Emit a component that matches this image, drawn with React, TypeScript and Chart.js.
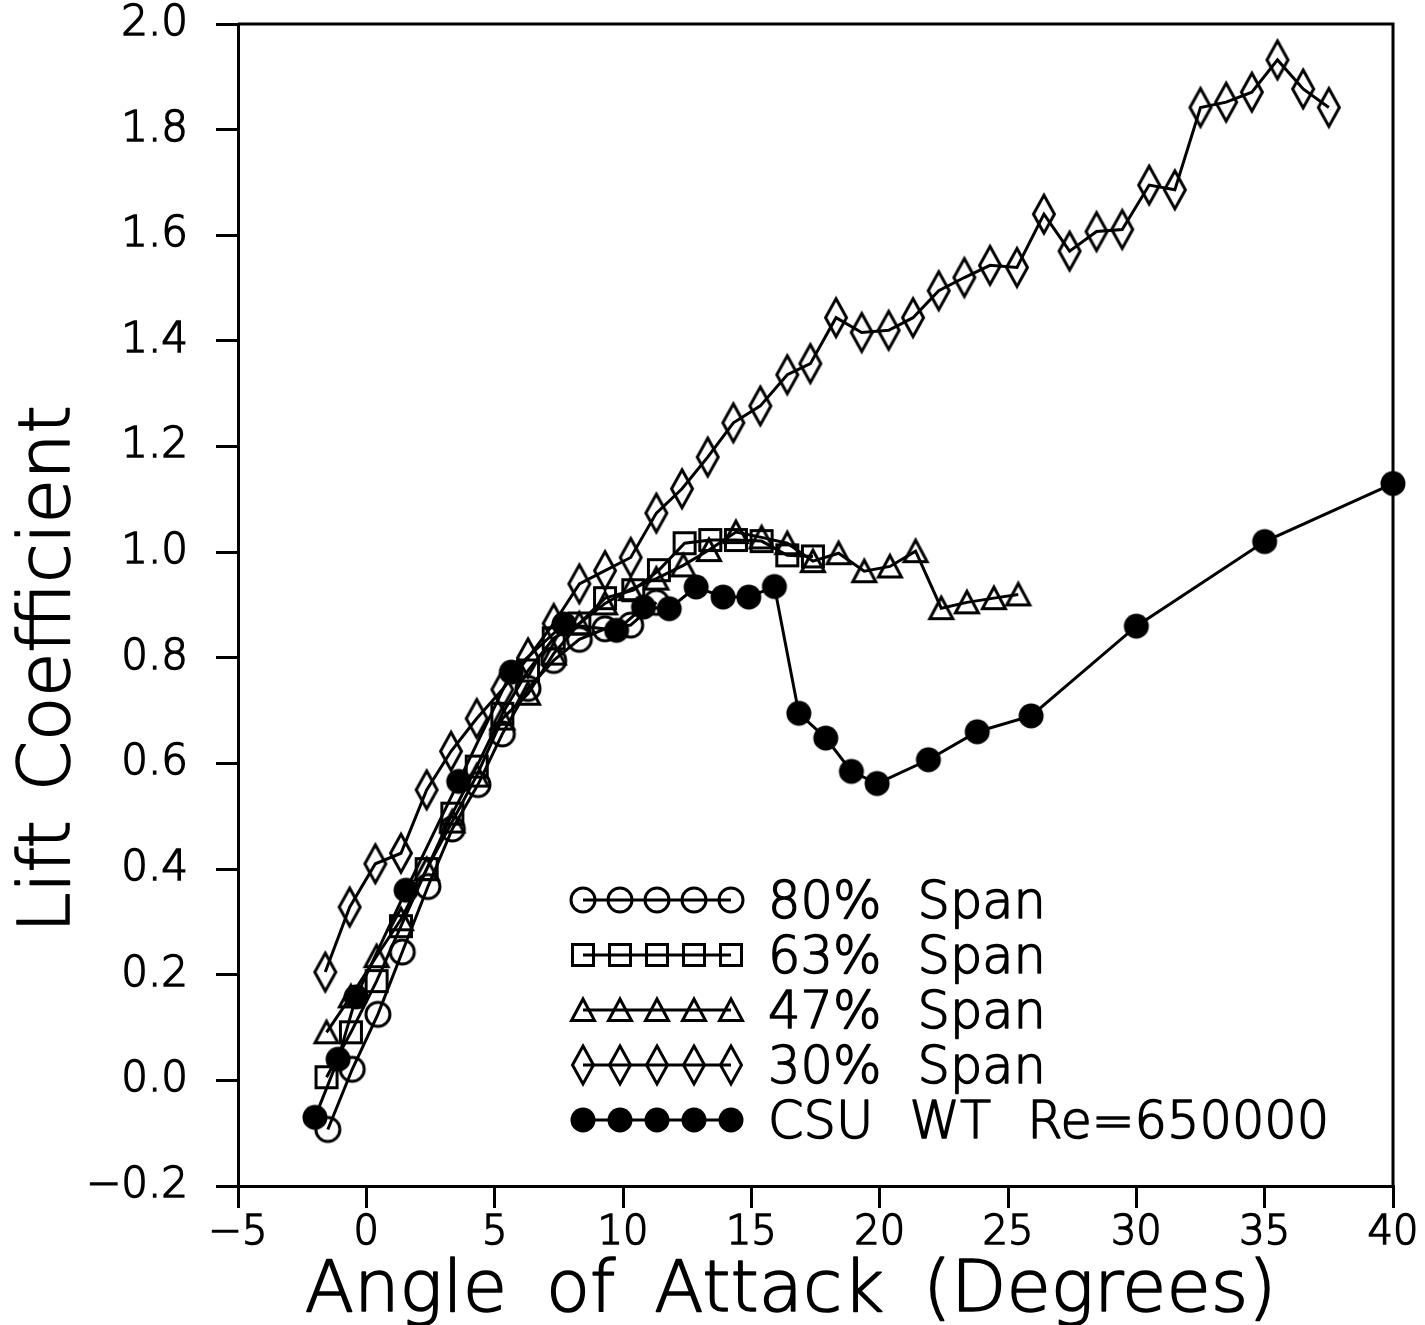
import React, { useEffect, useRef } from 'react';
import { Chart, registerables } from 'chart.js';

Chart.register(...registerables);

const FONT = '"DejaVu Sans", "Liberation Sans", sans-serif';

// ---- data (angle of attack in degrees, lift coefficient) ----
const span80Alpha = [-1.5, -0.55, 0.45, 1.4, 2.4, 3.35, 4.35, 5.3, 6.3, 7.3, 8.3, 9.3, 10.3, 11.3];
const span80Cl = [-0.093, 0.021, 0.125, 0.243, 0.367, 0.476, 0.56, 0.656, 0.742, 0.795, 0.835, 0.855, 0.862, 0.905];

const span63Alpha = [-1.55, -0.6, 0.4, 1.35, 2.35, 3.35, 4.3, 5.3, 6.3, 7.3, 8.3, 9.3, 10.4, 11.4, 12.4, 13.4, 14.4, 15.4, 16.4, 17.4];
const span63Cl = [0.006, 0.091, 0.188, 0.292, 0.4, 0.505, 0.594, 0.694, 0.776, 0.837, 0.865, 0.913, 0.928, 0.966, 1.017, 1.023, 1.023, 1.021, 0.994, 0.992];

const span47Alpha = [-1.55, -0.6, 0.4, 1.35, 2.35, 3.35, 4.3, 5.3, 6.3, 7.3, 8.3, 9.3, 10.3, 11.3, 12.35, 13.35, 14.4, 15.4, 16.4, 17.4, 18.4, 19.4, 20.4, 21.4, 22.4, 23.4, 24.45, 25.4];
const span47Cl = [0.091, 0.159, 0.235, 0.305, 0.4, 0.49, 0.577, 0.685, 0.732, 0.808, 0.865, 0.903, 0.93, 0.95, 0.975, 1.004, 1.038, 1.028, 1.017, 0.983, 0.998, 0.964, 0.973, 1.002, 0.894, 0.905, 0.913, 0.92];

const span30Alpha = [-1.6, -0.65, 0.35, 1.35, 2.35, 3.3, 4.3, 5.3, 6.3, 7.3, 8.3, 9.3, 10.3, 11.3, 12.3, 13.3, 14.3, 15.35, 16.4, 17.3, 18.3, 19.3, 20.35, 21.3, 22.3, 23.3, 24.3, 25.35, 26.4, 27.4, 28.45, 29.45, 30.5, 31.5, 32.5, 33.5, 34.5, 35.5, 36.5, 37.5];
const span30Cl = [0.205, 0.328, 0.41, 0.43, 0.55, 0.623, 0.685, 0.74, 0.8, 0.865, 0.94, 0.965, 0.99, 1.074, 1.12, 1.18, 1.245, 1.277, 1.336, 1.357, 1.444, 1.416, 1.42, 1.444, 1.495, 1.52, 1.543, 1.539, 1.64, 1.57, 1.607, 1.611, 1.695, 1.686, 1.842, 1.852, 1.871, 1.932, 1.877, 1.842];

const csuAlpha = [-2.0, -1.1, -0.4, 1.55, 3.6, 5.65, 7.7, 9.75, 10.8, 11.8, 12.85, 13.9, 14.9, 15.9, 16.85, 17.9, 18.9, 19.9, 21.9, 23.8, 25.9, 30.0, 35.0, 40.0];
const csuCl = [-0.07, 0.04, 0.158, 0.36, 0.566, 0.773, 0.864, 0.852, 0.896, 0.893, 0.934, 0.915, 0.915, 0.935, 0.695, 0.648, 0.585, 0.562, 0.607, 0.66, 0.69, 0.86, 1.02, 1.13];

const seriesLabels = ['80% Span', '63% Span', '47% Span', '30% Span', 'CSU WT Re=650000'];
const seriesMarkers = ['circle', 'square', 'triangle', 'diamond', 'filled'];

const xTickValues = [-5, 0, 5, 10, 15, 20, 25, 30, 35, 40];
const yTickValues = [-0.2, 0.0, 0.2, 0.4, 0.6, 0.8, 1.0, 1.2, 1.4, 1.6, 1.8, 2.0];

const xTitle = 'Angle of Attack (Degrees)';
const yTitle = 'Lift Coefficient';

function fmt(v: number, digits: number): string {
  const s = Math.abs(v) < 1e-9 ? (0).toFixed(digits) : v.toFixed(digits);
  return s.replace('-', '\u2212');
}

function makeMarker(kind: string): HTMLCanvasElement {
  const c = document.createElement('canvas');
  const W = 30;
  const H = kind === 'diamond' ? 46 : 30;
  c.width = W;
  c.height = H;
  const g = c.getContext('2d') as CanvasRenderingContext2D;
  g.lineWidth = 3;
  g.strokeStyle = '#000';
  g.fillStyle = '#000';
  g.lineJoin = 'miter';
  const cx = W / 2;
  const cy = H / 2;
  g.beginPath();
  if (kind === 'circle') {
    g.arc(cx, cy, 12, 0, Math.PI * 2);
    g.stroke();
  } else if (kind === 'filled') {
    g.arc(cx, cy, 12.5, 0, Math.PI * 2);
    g.fill();
  } else if (kind === 'square') {
    g.rect(cx - 10.5, cy - 10.5, 21, 21);
    g.stroke();
  } else if (kind === 'triangle') {
    g.moveTo(cx, cy - 11);
    g.lineTo(cx + 11.5, cy + 10.5);
    g.lineTo(cx - 11.5, cy + 10.5);
    g.closePath();
    g.stroke();
  } else if (kind === 'diamond') {
    g.moveTo(cx, cy - 19);
    g.lineTo(cx + 10.5, cy);
    g.lineTo(cx, cy + 19);
    g.lineTo(cx - 10.5, cy);
    g.closePath();
    g.stroke();
  }
  return c;
}

export default function App() {
  const ref = useRef<HTMLCanvasElement>(null);

  useEffect(() => {
    const canvas = ref.current;
    if (!canvas) return;

    const markers: Record<string, HTMLCanvasElement> = {};
    seriesMarkers.forEach((k) => {
      markers[k] = makeMarker(k);
    });

    const xs = [span80Alpha, span63Alpha, span47Alpha, span30Alpha, csuAlpha];
    const ys = [span80Cl, span63Cl, span47Cl, span30Cl, csuCl];

    const datasets = xs.map((xa, i) => ({
      label: seriesLabels[i],
      data: xa.map((x, j) => ({ x, y: ys[i][j] })),
      showLine: true,
      borderColor: '#000',
      backgroundColor: '#000',
      borderWidth: 3,
      pointStyle: markers[seriesMarkers[i]],
      pointRadius: 13,
      pointHoverRadius: 13,
      tension: 0,
      clip: false as const,
    }));

    const frameAndTitles = {
      id: 'frameAndTitles',
      afterLayout(chart: any) {
        const shift = (scale: any, dx: number, dy: number, ws: string) => {
          if (!scale || scale.__shifted) return;
          const proto = Object.getPrototypeOf(scale);
          scale.drawTitle = function () {
            const ctx = this.ctx;
            ctx.save();
            ctx.translate(dx, dy);
            (ctx as any).wordSpacing = ws;
            const origFill = ctx.fillText;
            (ctx as any).fillText = function (t: string, x: number, y: number, mw?: number) {
              this.lineWidth = 1.6;
              this.strokeStyle = '#000';
              this.lineJoin = 'round';
              this.strokeText(t, x, y, mw);
              origFill.call(this, t, x, y, mw);
            };
            proto.drawTitle.call(this);
            delete (ctx as any).fillText;
            ctx.restore();
          };
          scale.__shifted = true;
        };
        shift(chart.scales.x, -25, 0, '16px');
        shift(chart.scales.y, 0, 64, '6px');
      },
      beforeDatasetsDraw(chart: any) {
        const { ctx, chartArea } = chart;
        ctx.save();
        ctx.strokeStyle = '#000';
        ctx.lineWidth = 3;
        ctx.beginPath();
        ctx.moveTo(chartArea.left, chartArea.top);
        ctx.lineTo(chartArea.right, chartArea.top);
        ctx.lineTo(chartArea.right, chartArea.bottom);
        ctx.stroke();
        ctx.restore();
      },
      afterDatasetsDraw(chart: any) {
        const { ctx } = chart;
        ctx.save();
        const startX = 583;
        const step = 37;
        const textX = 768;
        const rowY0 = 900;
        const rowStep = 55;
        seriesLabels.forEach((label, i) => {
          const y = rowY0 + rowStep * i;
          ctx.strokeStyle = '#000';
          ctx.lineWidth = 3;
          ctx.beginPath();
          ctx.moveTo(startX, y);
          ctx.lineTo(startX + step * 4, y);
          ctx.stroke();
          const m = markers[seriesMarkers[i]];
          for (let k = 0; k < 5; k++) {
            const cx = startX + step * k;
            ctx.drawImage(m, cx - m.width / 2, y - m.height / 2);
          }
          ctx.fillStyle = '#000';
          ctx.strokeStyle = '#000';
          ctx.lineWidth = 1.5;
          ctx.lineJoin = 'round';
          ctx.font = `200 51px ${FONT}`;
          ctx.textBaseline = 'alphabetic';
          ctx.textAlign = 'left';
          (ctx as any).wordSpacing = '20px';
          ctx.strokeText(label, textX, y + 18);
          ctx.fillText(label, textX, y + 18);
          (ctx as any).wordSpacing = '0px';
        });
        ctx.restore();
      },
    };

    const xTickFont = { family: FONT, size: 40, weight: 200 as any };
    const yTickFont = { family: FONT, size: 42, weight: 200 as any };

    const chart = new Chart(canvas, {
      type: 'scatter',
      data: { datasets },
      options: {
        responsive: false,
        animation: false,
        events: [],
        layout: { padding: { left: 0, top: 24, right: 32, bottom: 0 } },
        plugins: {
          legend: { display: false },
          tooltip: { enabled: false },
          title: { display: false },
        },
        scales: {
          x: {
            type: 'linear',
            min: -5,
            max: 40,
            afterBuildTicks: (s: any) => {
              s.ticks = xTickValues.map((v) => ({ value: v }));
            },
            afterFit: (s: any) => {
              s.height = 139;
              s.paddingLeft = 0;
              s.paddingRight = 0;
            },
            grid: {
              display: true,
              drawOnChartArea: false,
              drawTicks: true,
              tickLength: 22,
              color: '#000',
              lineWidth: 3,
            },
            border: { display: true, color: '#000', width: 3 },
            ticks: {
              color: '#000',
              font: xTickFont,
              textStrokeColor: '#000',
              textStrokeWidth: 1.5,
              padding: 2,
              maxRotation: 0,
              autoSkip: false,
              callback: (v: any) => fmt(Number(v), 0),
            },
            title: {
              display: true,
              text: xTitle,
              color: '#000',
              font: { family: FONT, size: 72, weight: 200 as any, lineHeight: 0.9 },
              padding: { top: 0, bottom: 0 },
            },
          },
          y: {
            type: 'linear',
            min: -0.2,
            max: 2.0,
            afterBuildTicks: (s: any) => {
              s.ticks = yTickValues.map((v) => ({ value: v }));
            },
            afterFit: (s: any) => {
              s.width = 238;
              s.paddingTop = 0;
              s.paddingBottom = 0;
            },
            grid: {
              display: true,
              drawOnChartArea: false,
              drawTicks: true,
              tickLength: 22,
              color: '#000',
              lineWidth: 3,
            },
            border: { display: true, color: '#000', width: 3 },
            ticks: {
              color: '#000',
              font: yTickFont,
              textStrokeColor: '#000',
              textStrokeWidth: 1.5,
              padding: 28,
              autoSkip: false,
              callback: (v: any) => fmt(Number(v), 1),
            },
            title: {
              display: true,
              text: yTitle,
              color: '#000',
              font: { family: FONT, size: 72, weight: 200 as any, lineHeight: 0.9 },
              padding: { top: 18, bottom: 0 },
            },
          },
        },
      },
      plugins: [frameAndTitles],
    } as any);

    return () => {
      chart.destroy();
    };
  }, []);

  return (
    <div style={{ position: 'absolute', left: 0, top: 0, width: 1425, height: 1325, background: '#fff' }}>
      <canvas ref={ref} width={1425} height={1325} style={{ display: 'block', width: 1425, height: 1325 }} />
    </div>
  );
}
